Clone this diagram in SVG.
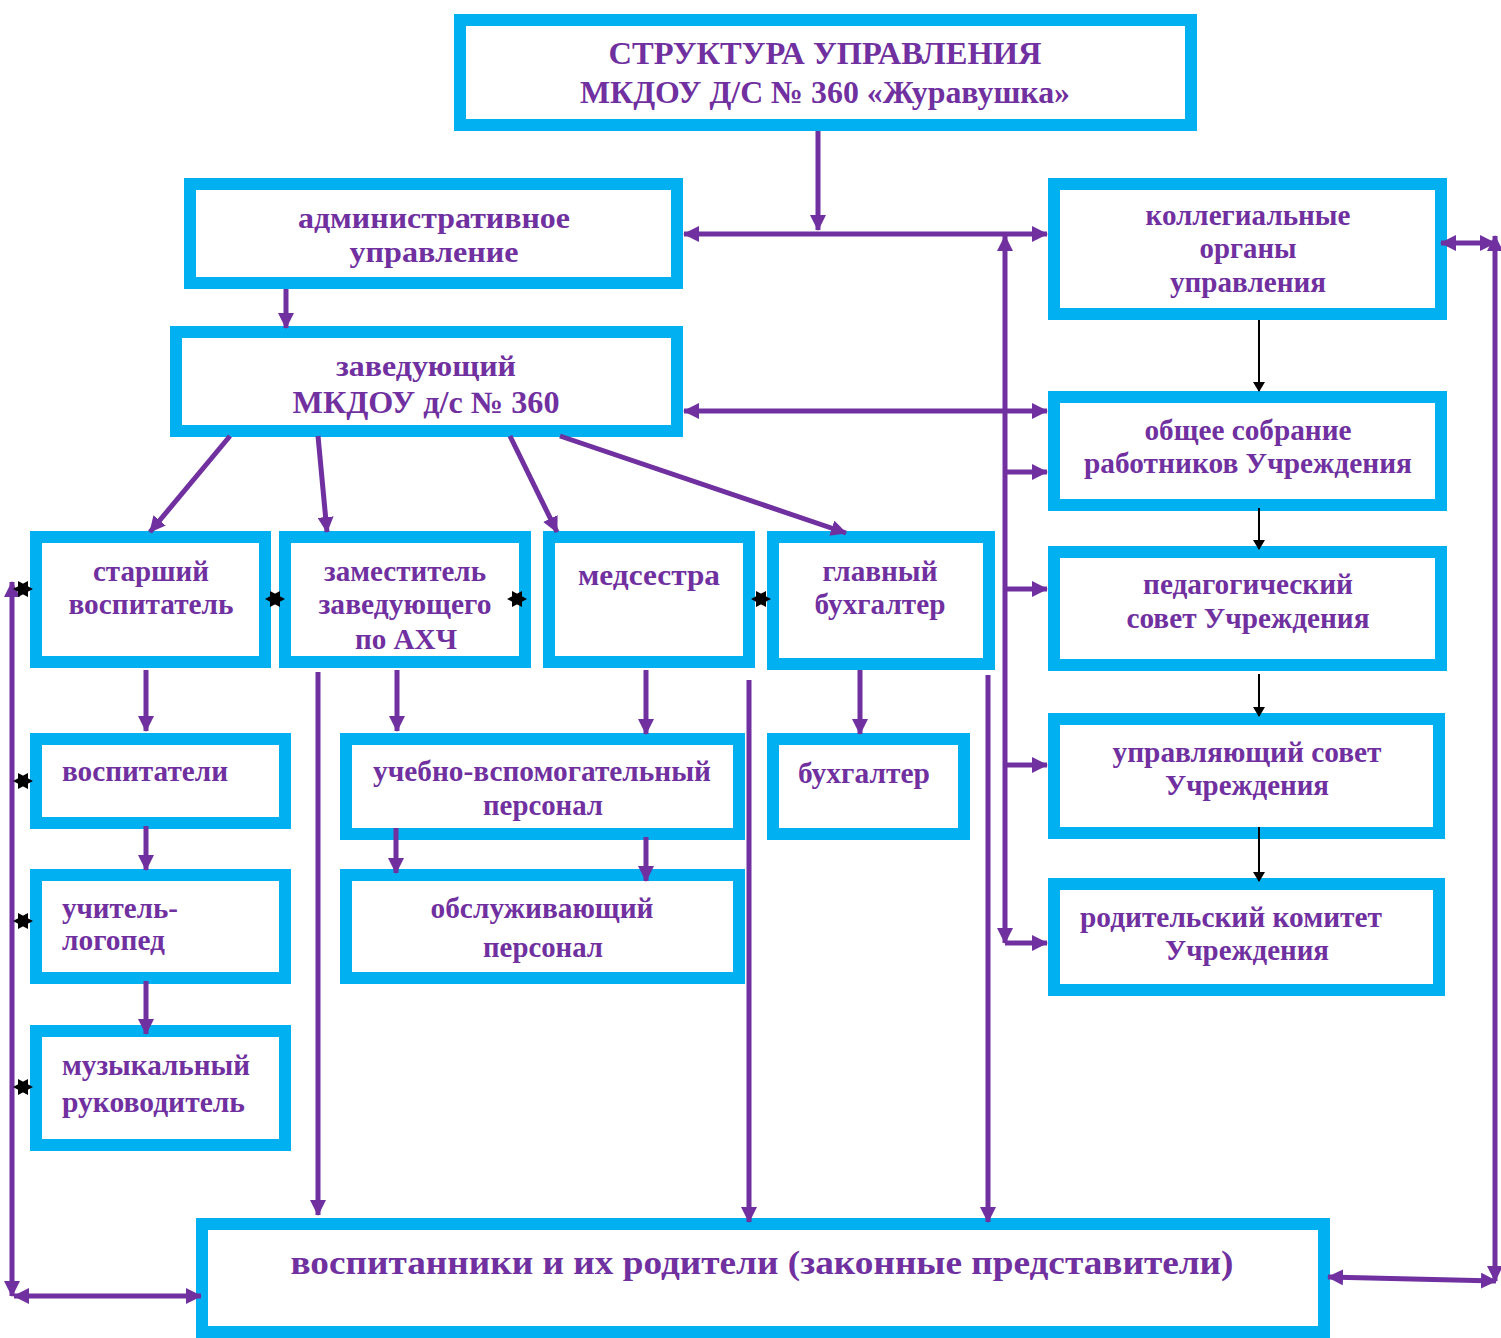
<svg xmlns="http://www.w3.org/2000/svg" width="1501" height="1338" viewBox="0 0 1501 1338">
<defs>
<style>
.box{fill:#fff;stroke:#00B0F0;stroke-width:12}
.t{font-family:"Liberation Serif","Times New Roman",serif;font-weight:bold;fill:#7030A0;font-size:29px}
.c{stroke:#7030A0;stroke-width:5;fill:none}
.k{stroke:#000;stroke-width:2;fill:none}
</style>
<marker id="ah" viewBox="0 0 16 16" refX="15" refY="8" markerWidth="16" markerHeight="16" markerUnits="userSpaceOnUse" orient="auto-start-reverse">
<path d="M0,0 L16,8 L0,16 z" fill="#7030A0"/>
</marker>
<marker id="bh" viewBox="0 0 10 12" refX="9" refY="6" markerWidth="10" markerHeight="12" markerUnits="userSpaceOnUse" orient="auto">
<path d="M0,0 L10,6 L0,12 z" fill="#000"/>
</marker>
<path id="star" d="M-10,0 L5,-8 L5,8 Z M10,0 L-5,8 L-5,-8 Z" fill="#000" fill-rule="nonzero"/>
<clipPath id="clipAhc"><rect x="291" y="543" width="228" height="106"/></clipPath>
</defs>

<g id="title">
<rect class="box" x="460" y="20" width="731" height="105"/>
<text class="t" style="font-size:32px" x="825" y="64" text-anchor="middle" textLength="433" lengthAdjust="spacingAndGlyphs">СТРУКТУРА УПРАВЛЕНИЯ</text>
<text class="t" style="font-size:32px" x="825" y="103" text-anchor="middle" textLength="490" lengthAdjust="spacingAndGlyphs">МКДОУ Д/С № 360 «Журавушка»</text>
</g>

<g id="admin">
<rect class="box" x="190" y="184" width="487" height="99"/>
<text class="t" x="434" y="228" text-anchor="middle" textLength="272" lengthAdjust="spacingAndGlyphs">административное</text>
<text class="t" x="434" y="262" text-anchor="middle" textLength="169" lengthAdjust="spacingAndGlyphs">управление</text>
</g>

<g id="kolleg">
<rect class="box" x="1054" y="184" width="387" height="130"/>
<text class="t" x="1248" y="225" text-anchor="middle" textLength="205" lengthAdjust="spacingAndGlyphs">коллегиальные</text>
<text class="t" x="1248" y="258" text-anchor="middle" textLength="97" lengthAdjust="spacingAndGlyphs">органы</text>
<text class="t" x="1248" y="292" text-anchor="middle" textLength="156" lengthAdjust="spacingAndGlyphs">управления</text>
</g>

<g id="zav">
<rect class="box" x="176" y="332" width="501" height="99"/>
<text class="t" x="426" y="376" text-anchor="middle" textLength="180" lengthAdjust="spacingAndGlyphs">заведующий</text>
<text class="t" style="font-size:31px" x="426" y="413" text-anchor="middle" textLength="267" lengthAdjust="spacingAndGlyphs">МКДОУ д/с № 360</text>
</g>

<g id="obshee">
<rect class="box" x="1054" y="397" width="387" height="108"/>
<text class="t" x="1248" y="440" text-anchor="middle" textLength="207" lengthAdjust="spacingAndGlyphs">общее собрание</text>
<text class="t" x="1248" y="473" text-anchor="middle" textLength="328" lengthAdjust="spacingAndGlyphs">работников Учреждения</text>
</g>

<g id="pedsovet">
<rect class="box" x="1054" y="552" width="387" height="113"/>
<text class="t" x="1248" y="594" text-anchor="middle" textLength="210" lengthAdjust="spacingAndGlyphs">педагогический</text>
<text class="t" x="1248" y="628" text-anchor="middle" textLength="243" lengthAdjust="spacingAndGlyphs">совет Учреждения</text>
</g>

<g id="uprsovet">
<rect class="box" x="1054" y="719" width="385" height="114"/>
<text class="t" x="1247" y="762" text-anchor="middle" textLength="269" lengthAdjust="spacingAndGlyphs">управляющий совет</text>
<text class="t" x="1247" y="795" text-anchor="middle" textLength="164" lengthAdjust="spacingAndGlyphs">Учреждения</text>
</g>

<g id="rodkom">
<rect class="box" x="1054" y="884" width="385" height="106"/>
<text class="t" x="1231" y="927" text-anchor="middle" textLength="302" lengthAdjust="spacingAndGlyphs">родительский комитет</text>
<text class="t" x="1247" y="960" text-anchor="middle" textLength="164" lengthAdjust="spacingAndGlyphs">Учреждения</text>
</g>

<g id="starshiy">
<rect class="box" x="36" y="537" width="229" height="125"/>
<text class="t" x="151" y="581" text-anchor="middle" textLength="116" lengthAdjust="spacingAndGlyphs">старший</text>
<text class="t" x="151" y="614" text-anchor="middle" textLength="165" lengthAdjust="spacingAndGlyphs">воспитатель</text>
</g>

<g id="zam">
<rect class="box" x="285" y="537" width="240" height="125"/>
<text class="t" x="405" y="581" text-anchor="middle" textLength="162" lengthAdjust="spacingAndGlyphs">заместитель</text>
<text class="t" x="405" y="614" text-anchor="middle" textLength="173" lengthAdjust="spacingAndGlyphs">заведующего</text>
<text class="t" x="406" y="649" text-anchor="middle" textLength="102" lengthAdjust="spacingAndGlyphs" clip-path="url(#clipAhc)">по АХЧ</text>
</g>

<g id="medsestra">
<rect class="box" x="549" y="537" width="200" height="125"/>
<text class="t" x="649" y="585" text-anchor="middle" textLength="142" lengthAdjust="spacingAndGlyphs">медсестра</text>
</g>

<g id="glavbuh">
<rect class="box" x="773" y="537" width="216" height="127"/>
<text class="t" x="880" y="581" text-anchor="middle" textLength="115" lengthAdjust="spacingAndGlyphs">главный</text>
<text class="t" x="880" y="614" text-anchor="middle" textLength="131" lengthAdjust="spacingAndGlyphs">бухгалтер</text>
</g>

<g id="vospitateli">
<rect class="box" x="36" y="739" width="249" height="84"/>
<text class="t" x="62" y="781" textLength="166" lengthAdjust="spacingAndGlyphs">воспитатели</text>
</g>

<g id="logoped">
<rect class="box" x="36" y="875" width="249" height="103"/>
<text class="t" x="62" y="918" textLength="116" lengthAdjust="spacingAndGlyphs">учитель-</text>
<text class="t" x="62" y="950" textLength="103" lengthAdjust="spacingAndGlyphs">логопед</text>
</g>

<g id="muzruk">
<rect class="box" x="36" y="1031" width="249" height="114"/>
<text class="t" x="62" y="1075" textLength="188" lengthAdjust="spacingAndGlyphs">музыкальный</text>
<text class="t" x="62" y="1112" textLength="183" lengthAdjust="spacingAndGlyphs">руководитель</text>
</g>

<g id="uchvspom">
<rect class="box" x="346" y="739" width="393" height="95"/>
<text class="t" x="542" y="781" text-anchor="middle" textLength="338" lengthAdjust="spacingAndGlyphs">учебно-вспомогательный</text>
<text class="t" x="543" y="815" text-anchor="middle" textLength="120" lengthAdjust="spacingAndGlyphs">персонал</text>
</g>

<g id="obsluzh">
<rect class="box" x="346" y="875" width="393" height="103"/>
<text class="t" x="542" y="918" text-anchor="middle" textLength="223" lengthAdjust="spacingAndGlyphs">обслуживающий</text>
<text class="t" x="543" y="957" text-anchor="middle" textLength="120" lengthAdjust="spacingAndGlyphs">персонал</text>
</g>

<g id="buhgalter">
<rect class="box" x="773" y="739" width="191" height="95"/>
<text class="t" x="864" y="783" text-anchor="middle" textLength="132" lengthAdjust="spacingAndGlyphs">бухгалтер</text>
</g>

<g id="vospitanniki">
<rect class="box" x="202" y="1224" width="1122" height="108"/>
<text class="t" style="font-size:34px" x="762" y="1274" text-anchor="middle" textLength="943" lengthAdjust="spacingAndGlyphs">воспитанники и их родители (законные представители)</text>
</g>

<g id="connectors">
<path class="c" d="M818,131 V230" marker-end="url(#ah)"/>
<path class="c" d="M684,234 H1047" marker-start="url(#ah)" marker-end="url(#ah)"/>
<path class="c" d="M1005,236 V943" marker-start="url(#ah)" marker-end="url(#ah)"/>
<path class="c" d="M684,411 H1047" marker-start="url(#ah)" marker-end="url(#ah)"/>
<path class="c" d="M1005,472 H1047" marker-end="url(#ah)"/>
<path class="c" d="M1005,589 H1047" marker-end="url(#ah)"/>
<path class="c" d="M1005,765 H1047" marker-end="url(#ah)"/>
<path class="c" d="M1005,943 H1047" marker-end="url(#ah)"/>
<path class="c" d="M286,289 V328" marker-end="url(#ah)"/>
<path class="c" d="M230,436 L150,532" marker-end="url(#ah)"/>
<path class="c" d="M318,436 L327,532" marker-end="url(#ah)"/>
<path class="c" d="M510,436 L557,532" marker-end="url(#ah)"/>
<path class="c" d="M560,436 L846,533" marker-end="url(#ah)"/>
<path class="c" d="M146,670 V731" marker-end="url(#ah)"/>
<path class="c" d="M146,826 V870" marker-end="url(#ah)"/>
<path class="c" d="M146,981 V1034" marker-end="url(#ah)"/>
<path class="c" d="M397,670 V731" marker-end="url(#ah)"/>
<path class="c" d="M318,672 V1215" marker-end="url(#ah)"/>
<path class="c" d="M646,670 V734" marker-end="url(#ah)"/>
<path class="c" d="M396,828 V873" marker-end="url(#ah)"/>
<path class="c" d="M646,837 V881" marker-end="url(#ah)"/>
<path class="c" d="M860,670 V734" marker-end="url(#ah)"/>
<path class="c" d="M749,680 V1222" marker-end="url(#ah)"/>
<path class="c" d="M988,675 V1222" marker-end="url(#ah)"/>
<path class="c" d="M12,582 V1296" marker-start="url(#ah)" marker-end="url(#ah)"/>
<path class="c" d="M14,1296 H201" marker-start="url(#ah)" marker-end="url(#ah)"/>
<path class="c" d="M1441,243 H1495" marker-start="url(#ah)" marker-end="url(#ah)"/>
<path class="c" d="M1495,236 V1281" marker-start="url(#ah)" marker-end="url(#ah)"/>
<path class="c" d="M1328,1277 L1496,1281" marker-start="url(#ah)" marker-end="url(#ah)"/>
<path class="k" d="M1259,320 V391" marker-end="url(#bh)"/>
<path class="k" d="M1259,508 V549" marker-end="url(#bh)"/>
<path class="k" d="M1259,674 V716" marker-end="url(#bh)"/>
<path class="k" d="M1259,827 V881" marker-end="url(#bh)"/>
<use href="#star" x="23" y="589"/>
<use href="#star" x="275" y="599"/>
<use href="#star" x="517" y="599"/>
<use href="#star" x="761" y="599"/>
<use href="#star" x="23" y="781"/>
<use href="#star" x="23" y="921"/>
<use href="#star" x="23" y="1087"/>
</g>
</svg>
